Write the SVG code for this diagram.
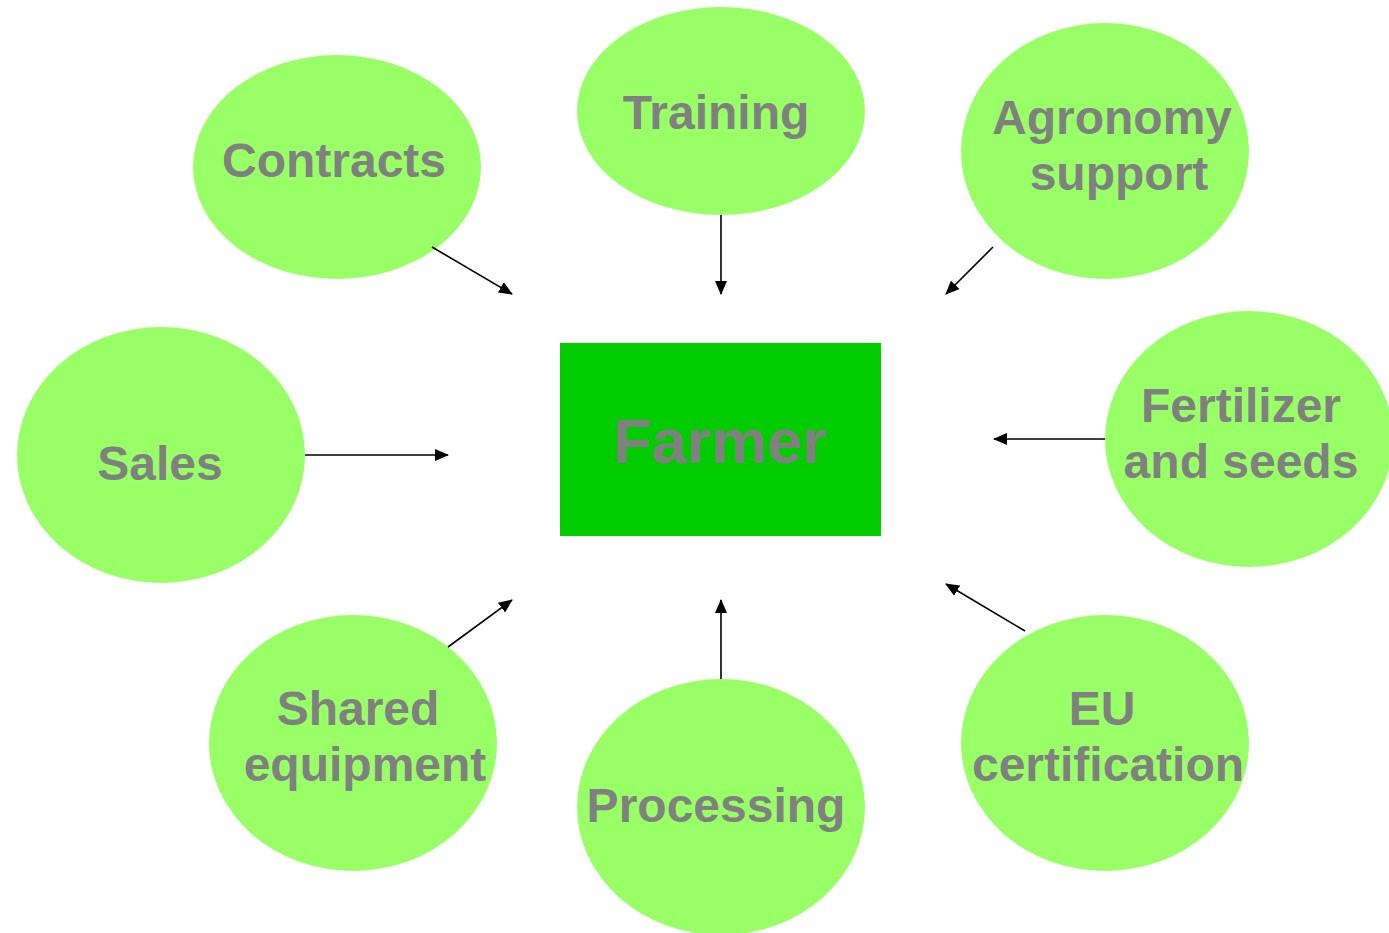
<svg xmlns="http://www.w3.org/2000/svg" width="1389" height="933" viewBox="0 0 1389 933">
<style>
.n{fill:#99FF66;stroke:none}
.t{font-family:"Liberation Sans",Arial,sans-serif;font-weight:bold;font-size:48px;fill:#808080;text-anchor:middle}
.c{stroke:#000;stroke-width:1.6;fill:none;marker-end:url(#a)}
</style>
<defs>
<marker id="a" markerWidth="14" markerHeight="12" refX="13" refY="6" orient="auto" markerUnits="userSpaceOnUse">
<path d="M0,0 L14,6 L0,12 Z" fill="#000"/>
</marker>
</defs>
<rect width="1389" height="933" fill="#fff"/>
<g id="farmer"><rect x="560" y="343" width="321" height="193" fill="#00CC00"/><text class="t" x="720" y="463" style="font-size:63px">Farmer</text></g>
<g id="contracts"><ellipse class="n" cx="337" cy="167" rx="144" ry="112"/><text class="t" x="334" y="177">Contracts</text></g>
<g id="training"><ellipse class="n" cx="721" cy="111" rx="144" ry="104"/><text class="t" x="716" y="129">Training</text></g>
<g id="agronomy"><ellipse class="n" cx="1105" cy="151" rx="144" ry="128"/><text class="t" x="1112" y="134">Agronomy</text><text class="t" x="1119" y="190">support</text></g>
<g id="sales"><ellipse class="n" cx="161" cy="455" rx="144" ry="128"/><text class="t" x="160" y="480">Sales</text></g>
<g id="fertilizer"><ellipse class="n" cx="1249" cy="439" rx="144" ry="128"/><text class="t" x="1241" y="422">Fertilizer</text><text class="t" x="1241" y="478">and seeds</text></g>
<g id="shared"><ellipse class="n" cx="353" cy="743" rx="144" ry="128"/><text class="t" x="358" y="725">Shared</text><text class="t" x="365" y="781">equipment</text></g>
<g id="processing"><ellipse class="n" cx="721" cy="807" rx="144" ry="128"/><text class="t" x="716" y="822">Processing</text></g>
<g id="eu"><ellipse class="n" cx="1105" cy="743" rx="144" ry="128"/><text class="t" x="1102" y="725">EU</text><text class="t" x="1108" y="781">certification</text></g>
<g id="connectors">
<line class="c" x1="432" y1="247" x2="512" y2="294"/>
<line class="c" x1="721" y1="215" x2="721" y2="294"/>
<line class="c" x1="993" y1="247" x2="946" y2="294"/>
<line class="c" x1="305" y1="455" x2="448" y2="455"/>
<line class="c" x1="1105" y1="439" x2="994" y2="439"/>
<line class="c" x1="448" y1="647" x2="512" y2="600"/>
<line class="c" x1="721" y1="679" x2="721" y2="600"/>
<line class="c" x1="1025" y1="631" x2="946" y2="584"/>
</g>
</svg>
